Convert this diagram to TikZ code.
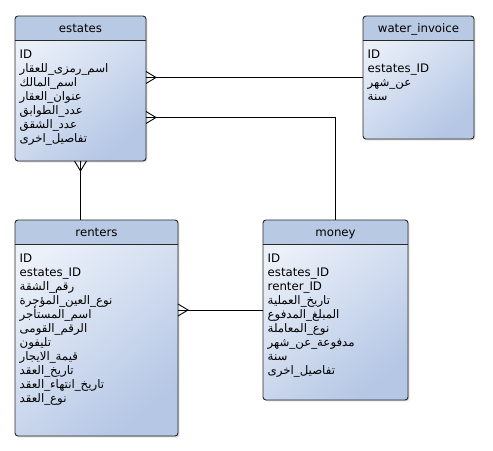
\documentclass[tikz,border=0pt]{standalone}
\usepackage{fontspec}
\setmainfont{DejaVu Sans}
\newfontfamily\arabicfont[Script=Arabic]{DejaVu Sans}
\TeXXeTstate=1
\usepackage{xcolor}
\usetikzlibrary{positioning}
\usetikzlibrary{calc}
\usetikzlibrary{shadows}
\definecolor{headerBlue}{RGB}{184,201,228}
\definecolor{bodyLight}{RGB}{236,241,249}
\definecolor{bodyDark}{RGB}{181,199,229}
\definecolor{frameGray}{RGB}{40,40,40}
\tikzset{
   tableBody/.style={anchor=north west, inner sep=0pt, outer sep=0pt, rounded corners=3bp, top color=bodyLight, bottom color=bodyDark, shading angle=40, drop shadow={shadow xshift=1.3bp, shadow yshift=-1.3bp, opacity=0.35}},
   frameLine/.style={draw=frameGray, line width=0.9bp},
   tableTitle/.style={anchor=base, inner sep=0pt, font=\fontsize{11.8}{14}\selectfont},
   rowText/.style={anchor=base west, inner sep=0pt, font=\fontsize{11.8}{14}\selectfont},
   connector/.style={draw=black, line width=0.9bp},
}
\newcommand{\artext}[1]{{\arabicfont\beginR #1\endR}}
% #1 name, #2 x, #3 y, #4 width, #5 height, #6 title, #7 rows
\newcommand{\entity}[7]{%
   \node[tableBody, minimum width=#4, minimum height=#5] (#1) at (#2,#3) {};
   \begin{scope}
      \clip[rounded corners=3bp] (#1.north west) rectangle (#1.south east);
      \fill[headerBlue] (#1.north west) rectangle ($(#1.north east)+(0,24)$);
   \end{scope}
   \draw[frameLine] ($(#1.north west)+(0,24)$) -- ($(#1.north east)+(0,24)$);
   \draw[frameLine, rounded corners=3bp] (#1.north west) rectangle (#1.south east);
   \node[tableTitle] (#1Title) at ($(#1.north)+(0,16.5)$) {#6};
   \foreach \row [count=\i from 0] in {#7} {
      \node[rowText] (#1Row\i) at ($(#1.north west)+(4.5,42.5+14*\i)$) {\row};
   }
}
% #1 point on the edge, #2 point along the line
\newcommand{\crowfoot}[2]{%
   \draw[connector] ($(#1)!6bp!90:(#2)$) -- ($(#1)!10bp!(#2)$) -- ($(#1)!6bp!-90:(#2)$);
}
\begin{document}
\begin{tikzpicture}[x=1bp, y=-1bp]
   \useasboundingbox (0,0) rectangle (493,451);
   %
   \entity{estates}{15}{16}{131bp}{145bp}{estates}{ID, \artext{اسم\_رمزى\_للعقار}, \artext{اسم\_المالك}, \artext{عنوان\_العقار}, \artext{عدد\_الطوابق}, \artext{عدد\_الشقق}, \artext{تفاصيل\_اخرى}}
   \entity{waterInvoice}{363}{16}{111bp}{123bp}{water\_invoice}{ID, estates\_ID, \artext{عن\_شهر}, \artext{سنة}}
   \entity{renters}{15}{220}{163bp}{216bp}{renters}{ID, estates\_ID, \artext{رقم\_الشقة}, \artext{نوع\_العين\_المؤجرة}, \artext{اسم\_المستأجر}, \artext{الرقم\_القومى}, \artext{تليفون}, \artext{قيمة\_الايجار}, \artext{تاريخ\_العقد}, \artext{تاريخ\_انتهاء\_العقد}, \artext{نوع\_العقد}}
   \entity{money}{263}{220}{145bp}{180bp}{money}{ID, estates\_ID, renter\_ID, \artext{تاريخ\_العملية}, \artext{المبلغ\_المدفوع}, \artext{نوع\_المعاملة}, \artext{مدفوعة\_عن\_شهر}, \artext{سنة}, \artext{تفاصيل\_اخرى}}
   %
   % estates -- water_invoice
   \draw[connector] (waterInvoice.west) -- (waterInvoice.west -| estates.east) coordinate (waterFoot);
   \crowfoot{waterFoot}{waterInvoice.west}
   %
   % estates -- money
   \coordinate (moneyFoot) at ($(estates.north east)+(0,101.5)$);
   \draw[connector] (money.north) |- (moneyFoot);
   \crowfoot{moneyFoot}{money.north |- moneyFoot}
   %
   % estates -- renters
   \draw[connector] (estates.south) -- (estates.south |- renters.north);
   \crowfoot{estates.south}{estates.south |- renters.north}
   %
   % renters -- money
   \draw[connector] (money.west) -- (money.west -| renters.east) coordinate (rentersFoot);
   \crowfoot{rentersFoot}{money.west}
\end{tikzpicture}
\end{document}
